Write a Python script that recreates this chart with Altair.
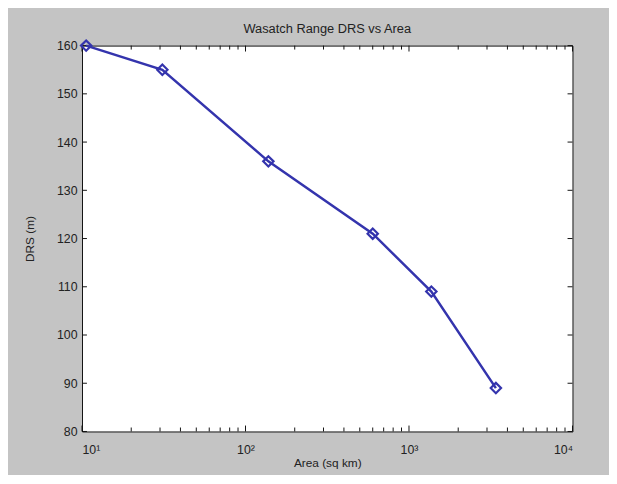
import altair as alt
import pandas as pd

area = [10.6, 31, 138, 600, 1370, 3400]
drs = [160, 155, 136, 121, 109, 89]

x_major = [10, 100, 1000, 10000]
x_minor = [20, 30, 40, 50, 60, 70, 80, 90,
           200, 300, 400, 500, 600, 700, 800, 900,
           2000, 3000, 4000, 5000, 6000, 7000, 8000, 9000]
y_ticks = [80, 90, 100, 110, 120, 130, 140, 150, 160]

W, H = 497, 391
BLUE = "#3434ad"

df = pd.DataFrame({"area": area, "drs": drs})
xmaj = pd.DataFrame({"v": x_major})
xmin = pd.DataFrame({"v": x_minor})
yt = pd.DataFrame({"v": y_ticks})

xscale = alt.Scale(type="log", domain=[10, 10000], nice=False)
yscale = alt.Scale(domain=[80, 160], nice=False, zero=False)

font = "Liberation Sans"

xaxis = alt.Axis(
    values=x_major,
    labelExpr="datum.value == 10 ? '10¹' : datum.value == 100 ? '10²' : datum.value == 1000 ? '10³' : '10⁴'",
    ticks=False, domain=False, grid=False,
    labelPadding=12, labelFontSize=12.5, labelColor="#222222", labelFont=font,
    title="Area (sq km)", titleFontSize=12, titleFontWeight="normal",
    titleColor="#222222", titleFont=font, titlePadding=2,
)
yaxis = alt.Axis(
    values=y_ticks, ticks=False, domain=False, grid=False,
    labelPadding=5, labelFontSize=12.5, labelColor="#222222", labelFont=font,
    title="DRS (m)", titleFontSize=12, titleFontWeight="normal",
    titleColor="#222222", titleFont=font, titlePadding=20,
)

line = alt.Chart(df).mark_line(color=BLUE, strokeWidth=2.5).encode(
    x=alt.X("area:Q", scale=xscale, axis=xaxis),
    y=alt.Y("drs:Q", scale=yscale, axis=yaxis),
)
pts = alt.Chart(df).mark_point(shape="diamond", filled=False, color=BLUE,
                               size=110, strokeWidth=2.2, opacity=1).encode(
    x=alt.X("area:Q", scale=xscale),
    y=alt.Y("drs:Q", scale=yscale),
)

tick_color = "#111111"
bx_maj = alt.Chart(xmaj).mark_rule(color=tick_color, strokeWidth=1).encode(
    x=alt.X("v:Q", scale=xscale), y=alt.value(H), y2=alt.value(H - 6))
tx_maj = alt.Chart(xmaj).mark_rule(color=tick_color, strokeWidth=1).encode(
    x=alt.X("v:Q", scale=xscale), y=alt.value(0), y2=alt.value(6))
bx_min = alt.Chart(xmin).mark_rule(color=tick_color, strokeWidth=1).encode(
    x=alt.X("v:Q", scale=xscale), y=alt.value(H), y2=alt.value(H - 4))
tx_min = alt.Chart(xmin).mark_rule(color=tick_color, strokeWidth=1).encode(
    x=alt.X("v:Q", scale=xscale), y=alt.value(0), y2=alt.value(4))
ly = alt.Chart(yt).mark_rule(color=tick_color, strokeWidth=1).encode(
    y=alt.Y("v:Q", scale=yscale), x=alt.value(0), x2=alt.value(5))
ry = alt.Chart(yt).mark_rule(color=tick_color, strokeWidth=1).encode(
    y=alt.Y("v:Q", scale=yscale), x=alt.value(W), x2=alt.value(W - 5))

chart = alt.layer(bx_maj, tx_maj, bx_min, tx_min, ly, ry, line, pts).properties(
    width=W, height=H,
    title=alt.Title("Wasatch Range DRS vs Area", fontSize=13, fontWeight="normal",
                    color="#222222", font=font, offset=0),
    autosize=alt.AutoSizeParams(type="none"),
    padding={"left": 75, "top": 35, "right": 37, "bottom": 41},
    background="#c4c4c4",
).configure_view(
    fill="white", stroke="#111111", strokeWidth=1
)

chart.save("out.html", embed_options={"renderer": "svg", "actions": False})
